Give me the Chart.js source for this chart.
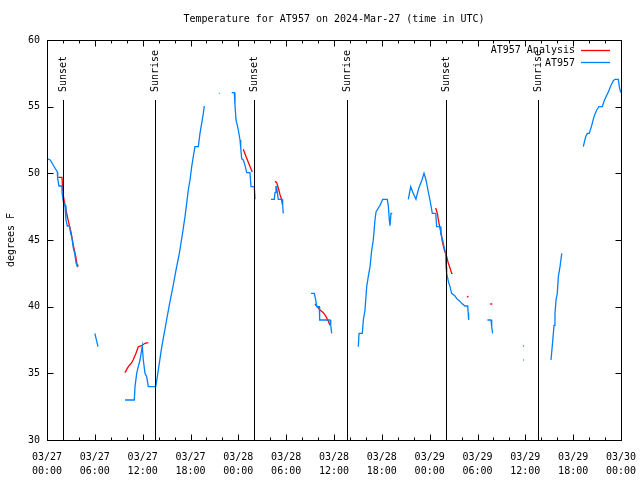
<!DOCTYPE html>
<html><head><meta charset="utf-8">
<script src="https://cdn.jsdelivr.net/npm/chart.js@4/dist/chart.umd.min.js"></script>
<style>html,body{margin:0;padding:0;background:#fff}canvas{display:block}</style>
</head><body>
<canvas id="c" width="640" height="480"></canvas>
<script>
const FONT = '"DejaVu Sans Mono", "Liberation Mono", monospace';
const titleText = 'Temperature for AT957 on 2024-Mar-27 (time in UTC)';
const yAxisTitle = 'degrees F';
const tickDates = ['03/27','03/27','03/27','03/27','03/28','03/28','03/28','03/28','03/29','03/29','03/29','03/29','03/30'];
const tickTimes = ['00:00','06:00','12:00','18:00','00:00','06:00','12:00','18:00','00:00','06:00','12:00','18:00','00:00'];
const seriesNames = ['AT957 Analysis', 'AT957'];

// hours since 03/27 00:00 UTC, null = gap
const obsHours = [0.0,0.4,0.7,1.0,1.3,1.34,1.5,1.88,1.9,2.04,2.26,2.38,2.55,2.8,2.97,3.13,3.3,3.47,3.64,3.8,3.85,4.5,
 6.0,6.4,7.0,
 9.78,10.95,11.04,11.25,11.45,11.67,11.95,12.08,12.29,12.5,12.71,13.63,13.8,14.1,14.4,14.7,15.0,15.4,15.8,16.2,16.6,17.0,17.31,17.52,17.72,17.94,18.15,18.35,18.56,18.98,19.19,19.4,19.61,19.73,20.5,
 21.55,21.65,22.0,
 23.17,23.5,23.58,23.71,23.87,24.0,24.21,24.3,24.42,24.62,24.84,25.05,25.46,25.59,26.0,26.1,26.19,27.0,
 28.1,28.51,28.6,28.72,28.8,28.89,29.01,29.48,29.56,29.64,30.5,
 33.12,33.53,33.71,33.83,34.16,34.2,35.5,35.59,35.71,37.0,
 39.05,39.14,39.55,39.68,39.89,40.1,40.3,40.52,40.73,40.93,41.14,41.27,41.56,41.77,42.11,42.68,42.81,42.94,43.02,43.15,43.31,44.5,
 45.32,45.62,45.87,46.28,46.5,46.7,47.0,47.29,47.54,47.83,48.04,48.33,48.76,48.88,49.3,49.42,49.63,49.8,50.01,50.05,50.14,50.34,50.55,50.76,51.18,51.39,51.71,52.01,52.43,52.77,52.84,52.89,54.0,
 55.24,55.7,55.78,55.9,57.0,
 59.7,59.8,61.0,
 63.22,63.43,63.6,63.72,63.85,64.01,64.14,64.35,64.57,66.0,
 67.27,67.57,67.78,68.02,68.33,68.61,68.95,69.24,69.66,69.87,70.12,70.41,70.71,71.04,71.25,71.66,71.79,71.96];
const obsTemps = [51.1,51.0,50.7,50.4,50.1,49.6,49.05,49.05,48.5,47.9,47.6,46.5,46.05,46.05,45.5,45.15,44.4,44.0,43.3,43.0,43.05,null,
 38.0,37.0,null,
 33.0,33.0,34.0,35.0,35.5,36.0,37.05,36.0,35.0,34.75,34.0,34.0,34.6,35.8,37.0,38.0,39.0,40.3,41.5,42.8,44.0,45.5,46.75,47.75,48.75,49.5,50.5,51.25,52.0,52.0,53.0,53.75,54.5,55.05,null,
 56.0,56.0,null,
 56.05,56.05,55.1,54.0,53.6,53.25,52.5,51.9,51.1,51.0,50.6,50.05,50.05,49.0,49.0,48.05,48.05,null,
 48.05,48.05,48.55,49.0,49.0,48.6,48.05,48.05,47.6,47.0,null,
 41.0,41.0,40.5,40.0,40.0,39.0,39.0,38.6,38.0,null,
 37.0,38.0,38.0,39.0,39.75,41.5,42.25,43.0,44.25,45.0,46.5,47.1,47.4,47.6,48.05,48.05,47.6,46.5,46.07,47.0,47.0,null,
 48.05,49.0,48.6,48.05,48.6,49.0,49.45,50.0,49.5,48.6,48.0,47.0,47.0,46.0,46.0,45.4,45.0,44.5,44.0,43.0,42.5,41.9,41.5,41.0,40.8,40.6,40.45,40.25,40.05,40.05,39.5,39.0,null,
 39.0,39.0,38.5,38.0,null,
 36.0,36.0,null,
 36.0,37.4,38.6,39.5,40.5,41.0,42.25,43.0,44.0,null,
 52.0,52.75,53.0,53.0,53.6,54.25,54.75,55.0,55.0,55.4,55.75,56.1,56.55,56.95,57.05,57.05,56.5,56.05];

const anaHours = [1.42,1.88,1.96,2.13,2.4,2.72,3.01,3.3,3.6,3.76,3.93,5.0,
 9.78,10.2,10.62,10.8,11.16,11.45,11.88,12.29,12.71,14.0,
 24.62,25.0,25.4,25.75,27.0,
 28.6,28.81,29.01,29.23,29.44,29.56,31.0,
 33.62,33.83,34.25,34.66,35.0,35.29,35.5,37.0,
 48.76,48.96,49.17,49.42,49.59,49.84,50.14,50.34,50.55,50.76,50.88,51.5,
 52.7,52.85,53.5,
 55.6,55.85,57.0,
 59.7,59.8];
const anaTemps = [49.7,49.7,48.8,48.0,47.2,46.3,45.6,44.6,43.8,43.2,43.05,null,
 35.05,35.5,35.8,36.0,36.5,37.0,37.07,37.25,37.3,null,
 51.8,51.2,50.6,50.1,null,
 49.4,49.3,48.9,48.4,48.0,47.6,null,
 40.2,40.05,39.75,39.55,39.25,38.9,38.6,null,
 47.4,47.0,46.25,45.6,44.9,44.25,43.75,43.25,42.9,42.5,42.5,null,
 40.7,40.8,null,
 40.2,40.2,null,
 37.05,37.05];

const sunHours = [1.95, 13.6, 25.98, 37.6, 50.1, 61.63];
const sunLabels = ['Sunset','Sunrise','Sunset','Sunrise','Sunset','Sunrise'];

const BLUE = '#0080ff', RED = '#ff0000';
const toPts = (hs, ts) => hs.map((h, i) => ({x: h, y: ts[i]}));

const overlay = {
  id: 'overlay',
  afterDatasetsDraw(chart) {
    const {ctx, chartArea: a, scales: {x, y}} = chart;
    ctx.save();
    ctx.strokeStyle = '#000';
    ctx.fillStyle = '#000';
    ctx.lineWidth = 1;
    ctx.font = '10px ' + FONT;
    sunHours.forEach((h, i) => {
      const px = Math.round(x.getPixelForValue(h)) + 0.5;
      ctx.beginPath(); ctx.moveTo(px, 100); ctx.lineTo(px, a.bottom); ctx.stroke();
      ctx.save();
      ctx.translate(px, 92);
      ctx.rotate(-Math.PI / 2);
      ctx.textAlign = 'left'; ctx.textBaseline = 'middle';
      ctx.fillText(sunLabels[i], 0, 0);
      ctx.restore();
    });
    const L = Math.round(a.left) + 0.5, R = Math.round(a.right) + 0.5, T = Math.round(a.top) + 0.5, B = Math.round(a.bottom) + 0.5;
    ctx.strokeRect(L, T, R - L, B - T);
    ctx.beginPath();
    for (let v = 30; v <= 60; v += 5) {
      const py = Math.round(y.getPixelForValue(v)) + 0.5;
      ctx.moveTo(L, py); ctx.lineTo(L + 6, py);
      ctx.moveTo(R, py); ctx.lineTo(R - 6, py);
    }
    for (let h = 0; h <= 72; h += 2) {
      const px = Math.round(x.getPixelForValue(h)) + 0.5;
      const len = (h % 6 === 0) ? 6 : 3;
      ctx.moveTo(px, B); ctx.lineTo(px, B - len);
      ctx.moveTo(px, T); ctx.lineTo(px, T + len);
    }
    ctx.stroke();
    ctx.textAlign = 'center'; ctx.textBaseline = 'middle';
    ctx.fillText(titleText, (a.left + a.right) / 2, 19);
    ctx.textAlign = 'right';
    ctx.fillText(seriesNames[0], 575, 50);
    ctx.fillText(seriesNames[1], 575, 63);
    ctx.lineWidth = 1.3;
    ctx.strokeStyle = RED;
    ctx.beginPath(); ctx.moveTo(581, 50.5); ctx.lineTo(610, 50.5); ctx.stroke();
    ctx.strokeStyle = BLUE;
    ctx.beginPath(); ctx.moveTo(581, 62.5); ctx.lineTo(610, 62.5); ctx.stroke();
    ctx.restore();
  }
};

new Chart(document.getElementById('c'), {
  type: 'line',
  data: {
    datasets: [
      {label: seriesNames[1], data: toPts(obsHours, obsTemps), borderColor: BLUE, borderWidth: 1.3, pointRadius: 0, spanGaps: false, tension: 0, fill: false},
      {label: seriesNames[0], data: toPts(anaHours, anaTemps), borderColor: RED, borderWidth: 1.3, pointRadius: 0, spanGaps: false, tension: 0, fill: false}
    ]
  },
  options: {
    responsive: false, animation: false, devicePixelRatio: 1,
    layout: {padding: {left: 0, right: 19, top: 40, bottom: 0}},
    plugins: {legend: {display: false}, tooltip: {enabled: false}, title: {display: false}},
    scales: {
      x: {
        type: 'linear', min: 0, max: 72,
        afterFit(s) { s.height = 40; s.paddingLeft = 0; s.paddingRight = 0; },
        border: {display: false},
        grid: {display: false, drawTicks: false},
        ticks: {stepSize: 6, autoSkip: false, maxRotation: 0, color: '#000', padding: 10,
          font: {family: FONT, size: 10, lineHeight: 1.4},
          callback: (v) => { const i = Math.round(v / 6); return [tickDates[i], tickTimes[i]]; }}
      },
      y: {
        min: 30, max: 60,
        afterFit(s) { s.width = 47; s.paddingTop = 0; s.paddingBottom = 0; },
        border: {display: false},
        grid: {display: false, drawTicks: false},
        ticks: {stepSize: 5, color: '#000', padding: 7, font: {family: FONT, size: 10}},
        title: {display: true, text: yAxisTitle, color: '#000', padding: {top: 5, bottom: 0}, font: {family: FONT, size: 10}}
      }
    }
  },
  plugins: [overlay]
});
</script>
</body></html>
